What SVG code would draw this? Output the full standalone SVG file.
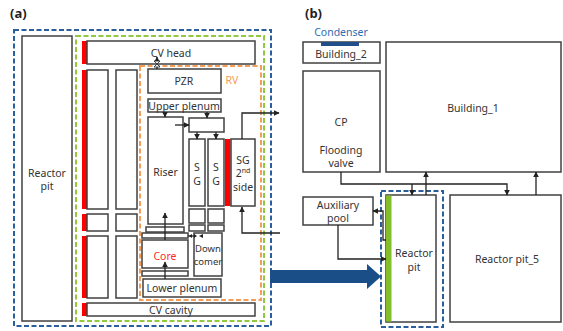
<svg xmlns="http://www.w3.org/2000/svg" width="563" height="331" viewBox="0 0 563 331">
<style>
text{font-family:"Noto Sans","Open Sans","Liberation Sans",sans-serif;font-size:10.5px;fill:#333;text-anchor:middle;dominant-baseline:central}
.box{fill:#fff;stroke:#404040;stroke-width:1.5}
.red{fill:#ff0000}
.grn{fill:#84bd2a}
.dblue{fill:none;stroke:#2a5f9e;stroke-width:2;stroke-dasharray:5,2.5}
.dgreen{fill:none;stroke:#92c83e;stroke-width:2;stroke-dasharray:5,2.5}
.dorange{fill:none;stroke:#f59d56;stroke-width:2;stroke-dasharray:5,2.5}
.ln{fill:none;stroke:#222;stroke-width:1.3}
.title{font-weight:bold;font-size:13px;text-anchor:start;fill:#222}
.sm{font-size:9.5px}
</style>
<defs>
<marker id="ah" viewBox="0 0 10 10" refX="9" refY="5" markerWidth="6" markerHeight="6" markerUnits="userSpaceOnUse" orient="auto">
<path d="M0,0 L10,5 L0,10 z" fill="#222"/>
</marker>
</defs>

<text class="title" x="10" y="13">(a)</text>
<text class="title" x="305" y="13">(b)</text>

<!-- (a) containers -->
<g id="a-outer"><rect class="dblue" x="14" y="30" width="257" height="296"/></g>
<g id="reactor-pit-a"><rect class="box" x="22" y="36" width="50" height="285"/><text x="47" y="173">Reactor</text><text x="47" y="186">pit</text></g>
<g id="cv"><rect class="dgreen" x="76" y="36" width="188" height="285"/><text x="100" y="53" style="fill:#92c83e">CV</text></g>
<g id="cv-head"><rect class="red" x="82" y="41" width="5" height="23"/><rect class="box" x="87" y="41" width="168" height="23"/><text x="171" y="53">CV head</text></g>
<g id="rv"><rect class="dorange" x="140" y="66" width="121" height="234"/><text x="232" y="80" style="fill:#f59d56">RV</text></g>

<g id="columns">
<rect class="red" x="82" y="70" width="5" height="139"/>
<rect class="red" x="82" y="214" width="5" height="17"/>
<rect class="red" x="82" y="236" width="5" height="62"/>
<rect class="box" x="87" y="70" width="21" height="139"/>
<rect class="box" x="116" y="70" width="21" height="139"/>
<rect class="box" x="87" y="214" width="21" height="17"/>
<rect class="box" x="116" y="214" width="21" height="17"/>
<rect class="box" x="87" y="236" width="21" height="62"/>
<rect class="box" x="116" y="236" width="21" height="62"/>
</g>
<g id="cv-cavity"><rect class="red" x="82" y="303" width="5" height="13"/><rect class="box" x="87" y="303" width="168" height="13"/><text x="171" y="309.5">CV cavity</text></g>

<g id="pzr"><rect class="box" x="148" y="69" width="73" height="24"/><text x="184" y="81">PZR</text></g>
<g id="upper-plenum"><rect class="box" x="148" y="99" width="73" height="13"/><text x="184" y="105.5">Upper plenum</text></g>
<g id="riser"><rect class="box" x="148" y="117" width="35" height="107"/><text x="165.5" y="172">Riser</text></g>
<g id="mixer"><rect class="box" x="189" y="118" width="35" height="14"/></g>
<g id="sg1"><rect class="box" x="189" y="139" width="16" height="67"/><text x="197" y="167">S</text><text x="197" y="181">G</text>
<rect class="box" x="189" y="209" width="16" height="14"/><rect class="box" x="189" y="225" width="16" height="6"/></g>
<g id="sg2"><rect class="box" x="208" y="139" width="16" height="67"/><text x="216" y="167">S</text><text x="216" y="181">G</text>
<rect class="box" x="208" y="209" width="16" height="14"/><rect class="box" x="208" y="225" width="16" height="6"/></g>
<g id="sg-2nd"><rect class="red" x="225" y="139" width="5.5" height="67"/><rect class="box" x="231" y="139" width="24" height="67"/>
<text x="243" y="160">SG</text><text x="243" y="173">2<tspan font-size="7" dy="-3">nd</tspan></text><text x="243" y="187">side</text></g>
<g id="core">
<rect class="box" x="146" y="227" width="38" height="5"/>
<rect class="box" x="142" y="233" width="46" height="5"/>
<rect class="box" x="142" y="240" width="46" height="28"/>
<text x="165" y="256" style="fill:#ff2a2a">Core</text>
<rect class="box" x="142" y="271" width="46" height="5"/>
</g>
<g id="downcomer"><rect class="box" x="194" y="233" width="28" height="43"/><text class="sm" x="208" y="248">Down</text><text class="sm" x="208" y="261">comer</text></g>
<g id="lower-plenum"><rect class="box" x="143" y="279" width="78" height="18"/><text x="182" y="288">Lower plenum</text></g>

<!-- (b) nodes -->
<g id="condenser"><text x="341" y="32" style="fill:#2e6db0">Condenser</text></g>
<g id="building2"><rect class="box" x="303" y="42" width="77" height="21"/><rect x="321" y="42" width="38" height="4" fill="#1f4e8a"/><text x="341" y="54">Building_2</text></g>
<g id="cp"><rect class="box" x="303" y="71" width="77" height="101"/><text x="341" y="122">CP</text><text x="341" y="150">Flooding</text><text x="341" y="163">valve</text></g>
<g id="building1"><rect class="box" x="386" y="42" width="175" height="130"/><text x="473" y="108">Building_1</text></g>
<g id="aux-pool"><rect class="box" x="303" y="197" width="70" height="28"/><text x="338" y="205">Auxiliary</text><text x="338" y="218">pool</text></g>
<g id="b-outer"><rect class="dblue" x="381" y="191" width="62" height="136"/></g>
<g id="reactor-pit-b"><rect class="box" x="386" y="195" width="50" height="127"/><rect class="grn" x="386" y="195.5" width="5.5" height="126"/><text x="414" y="253">Reactor</text><text x="414" y="267">pit</text></g>
<g id="reactor-pit5"><rect class="box" x="450" y="195" width="111" height="127"/><text x="507" y="259">Reactor pit_5</text></g>

<g id="connectors">
<path class="ln" d="M157,69 V57" marker-end="url(#ah)"/>
<path d="M154,61 L160,61 L157,64 Z M154,67 L160,67 L157,64 Z" fill="#fff" stroke="#222" stroke-width="0.8"/>
<path class="ln" d="M165,112 V117" marker-end="url(#ah)"/>
<path class="ln" d="M207,112 V118" marker-end="url(#ah)"/>
<path class="ln" d="M175,125 H189" marker-end="url(#ah)"/>
<path class="ln" d="M197,132 V139" marker-end="url(#ah)"/>
<path class="ln" d="M216,132 V139" marker-end="url(#ah)"/>
<path class="ln" d="M242,139 V113 H279" marker-end="url(#ah)"/>
<path class="ln" d="M280,233 H242 V207" marker-end="url(#ah)"/>
<path class="ln" d="M165,240 V213" marker-end="url(#ah)"/>
<path class="ln" d="M165,279 V262" marker-end="url(#ah)"/>
<path class="ln" d="M188,236 H194" stroke-width="1"/>
<path d="M189,236 l3,-2 v4 z M197,236 l-3,-2 v4 z M199,236 l4,-2 v4 z" fill="#222"/>
<path class="ln" d="M341,172 V184 H507 V195" marker-end="url(#ah)"/>
<path class="ln" d="M412,184 V195" marker-end="url(#ah)"/>
<path class="ln" d="M426,195 V172" marker-end="url(#ah)"/>
<path class="ln" d="M536,195 V172" marker-end="url(#ah)"/>
<path class="ln" d="M338,225 V259 H386" marker-end="url(#ah)"/>
<path class="ln" d="M386,240 H383 V211 H373" marker-end="url(#ah)"/>
<polygon points="270,270 367,270 367,264 381,276.5 367,289 367,283 270,283" fill="#1a4e86"/>
</g>
</svg>
